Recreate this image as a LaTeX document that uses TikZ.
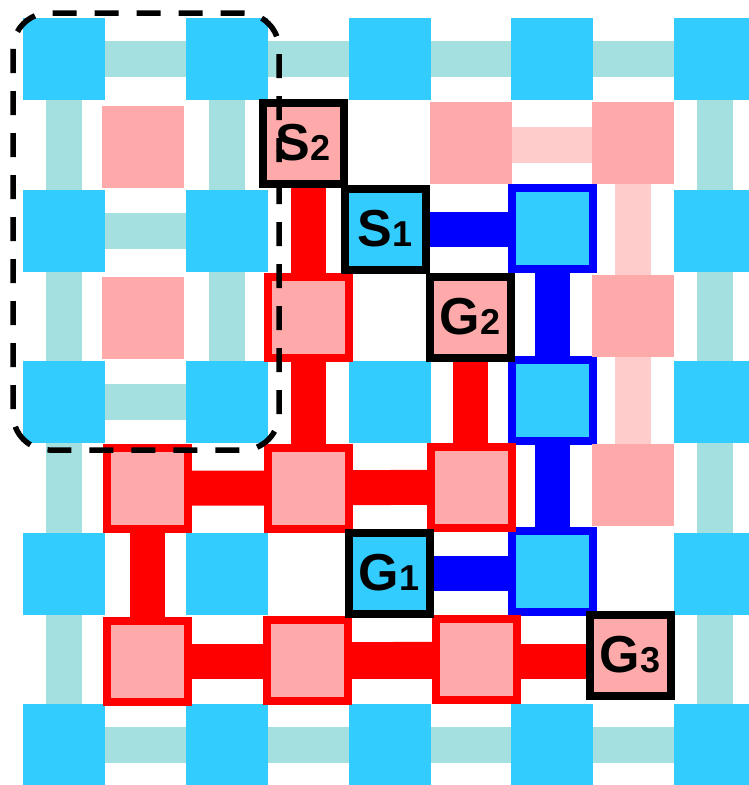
\documentclass[tikz,border=0pt]{standalone}
\usepackage{fontspec}
\setmainfont{Liberation Sans}
\definecolor{cblue}{RGB}{51,204,255}
\definecolor{cpink}{RGB}{255,170,170}
\definecolor{cteal}{RGB}{164,224,224}
\definecolor{clpink}{RGB}{255,204,204}
\pgfdeclarelayer{bg}
\pgfsetlayers{bg,main}
\newcommand\sqlabel[2]{{\fontsize{52}{52}\selectfont\bfseries #1}{\fontsize{36}{36}\selectfont\bfseries #2}}
\tikzset{
  sq/.style={rectangle, inner sep=0pt, outer sep=0pt, minimum size=82pt},
  bsq/.style={sq, fill=cblue},
  psq/.style={sq, fill=cpink},
  framed/.style={sq, line width=8pt, minimum size=81pt},
  redbox/.style={framed, fill=cpink, draw=red},
  bluebox/.style={framed, fill=cblue, draw=blue},
  blackpink/.style={framed, fill=cpink, draw=black},
  blackblue/.style={framed, fill=cblue, draw=black},
  tealline/.style={draw=cteal, line width=36pt},
  lpinkline/.style={draw=clpink, line width=36pt},
  redline/.style={draw=red, line width=35pt},
  blueline/.style={draw=blue, line width=35pt},
  dashbox/.style={draw=black, line width=5.5pt, dash pattern=on 24pt off 18pt, rounded corners=36pt}
}
\begin{document}
\begin{tikzpicture}[x=1pt,y=-1pt]
\useasboundingbox (0,0) rectangle (749,785);
% plain blue squares
\foreach \i/\x in {0/64,2/227,4/390,6/552,8/715}{
  \node[bsq] (b\i0) at (\x,59) {};
  \node[bsq] (b\i8) at (\x,745) {};
}
\foreach \i/\x in {0/64,2/227,8/715}{
  \node[bsq] (b\i2) at (\x,231) {};
  \node[bsq] (b\i4) at (\x,402) {};
  \node[bsq] (b\i6) at (\x,574) {};
}
\node[bsq] (b44) at (390,402) {};
% blue framed
\node[bluebox] (b62) at (552,228) {};
\node[bluebox] (b64) at (552,400) {};
\node[bluebox] (b66) at (552,571) {};
% plain pink squares
\node[psq] (p11) at (143,147) {};
\node[psq] (p51) at (471,143) {};
\node[psq] (p71) at (633,143) {};
\node[psq] (p13) at (143,318) {};
\node[psq] (p73) at (633,316) {};
\node[psq] (p75) at (633,485) {};
% red framed
\node[redbox] (p33) at (308,317) {};
\node[redbox] (p15) at (147,488) {};
\node[redbox] (p35) at (308,488) {};
\node[redbox] (p55) at (471,487) {};
\node[redbox] (p17) at (147,661) {};
\node[redbox] (p37) at (307,660) {};
\node[redbox] (p57) at (476,659) {};
% labelled
\node[blackpink] (S2) at (303,143) {\sqlabel{S}{2}};
\node[blackblue] (S1) at (385,229) {\sqlabel{S}{1}};
\node[blackpink] (G2) at (470,317) {\sqlabel{G}{2}};
\node[blackblue] (G1) at (389,573) {\sqlabel{G}{1}};
\node[blackpink] (G3) at (630,655) {\sqlabel{G}{3}};
% connectors
\begin{pgfonlayer}{bg}
  \foreach \a/\b in {b00/b20,b20/b40,b40/b60,b60/b80,b02/b22,b04/b24,
      b08/b28,b28/b48,b48/b68,b68/b88,
      b00/b02,b02/b04,b04/b06,b06/b08,b20/b22,b22/b24,
      b80/b82,b82/b84,b84/b86,b86/b88}
    \draw[tealline] (\a.center) -- (\b.center);
  \draw[lpinkline] ([yshift=-2pt]p51.center) -- ([yshift=-2pt]p71.center);
  \foreach \a/\b in {p71/p73,p73/p75}
    \draw[lpinkline] (\a.center) -- (\b.center);
  \draw[redline] (S2.center -| p33.center) -- (p33.center) -- (p35.center);
  \draw[redline] (p15.center) -- (p35.center) -- (p55.center -| p55.center);
  \draw[redline] (G2.center) -- (G2.center |- p55.center);
  \draw[redline] (p15.center) -- (p17.center);
  \draw[redline] (p17.center) -- (p17.center -| G3.center);
  \draw[redline] (p37.center) -- (p57.center);
  \draw[blueline] (S1.center) -- (S1.center -| b62.center);
  \draw[blueline] (b62.center) -- (b64.center) -- (b66.center);
  \draw[blueline] (G1.center) -- (G1.center -| b66.center);
\end{pgfonlayer}
% dashed region
\draw[dashbox] (13,13) rectangle (279,450);
\end{tikzpicture}
\end{document}
